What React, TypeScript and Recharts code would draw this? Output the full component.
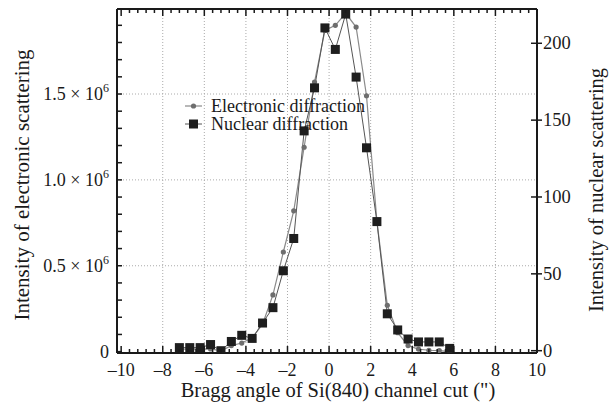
import { ComposedChart, Line, XAxis, YAxis, CartesianGrid, Legend } from 'recharts';

// Bragg angle (arcsec) of each measured point
const angles = [-7.2, -6.7, -6.2, -5.7, -5.2, -4.7, -4.2, -3.7, -3.2, -2.7, -2.2, -1.7, -1.2, -0.7, -0.2, 0.3, 0.8, 1.3, 1.8, 2.3, 2.8, 3.3, 3.8, 4.3, 4.8, 5.3, 5.8];
// electronic scattering, in units of 10^6
const electronic = [0.015, 0.015, 0.015, 0.016, 0.005, 0.035, 0.05, 0.08, 0.16, 0.33, 0.58, 0.82, 1.19, 1.57, 1.87, 1.9, 1.97, 1.89, 1.49, 0.76, 0.27, 0.11, 0.035, 0.015, 0.008, 0.006, 0.0];
// nuclear scattering counts
const nuclear = [2, 2, 2, 4, 0, 6, 10, 8, 18, 28, 52, 73, 143, 171, 210, 196, 219, 178, 132, 84, 24, 13.5, 7.6, 5.7, 5.7, 5.7, 1.5];

const xTicks = Array.from({ length: 51 }, (_, i) => +(-10 + i * 0.4).toFixed(1));
const leftTicks = Array.from({ length: 20 }, (_, i) => +(i * 0.1).toFixed(1));
const rightTicks = [0, 50, 100, 150, 200];
const xGrid = [-8, -6, -4, -2, 0, 2, 4, 6, 8];
const yGrid = [0.5, 1.0, 1.5];
const leftLabels: Record<string, string> = { '0': '0', '0.5': '0.5', '1': '1.0', '1.5': '1.5' };

const data = angles.map((a, i) => ({ angle: a, e: electronic[i], n: nuclear[i] }));

const FONT = "'Liberation Serif', 'Times New Roman', serif";
const INK = '#1a1a1a';

const isMajorX = (v: number) => Math.abs(v / 2 - Math.round(v / 2)) < 1e-6;

const BottomTick = ({ x, y, payload }: any) => {
  const v = payload.value;
  const major = isMajorX(v);
  return (
    <g>
      <line x1={x} x2={x} y1={y} y2={y - (major ? 7 : 4)} stroke={INK} strokeWidth={1.5} />
      {major && (
        <text x={x} y={y + 23} textAnchor="middle" fontSize={18} fontFamily={FONT} fill={INK}>
          {v < 0 ? `\u2013${Math.abs(v)}` : v}
        </text>
      )}
    </g>
  );
};

const TopTick = ({ x, y, payload }: any) => {
  const major = isMajorX(payload.value);
  return <line x1={x} x2={x} y1={y} y2={y + (major ? 7 : 4)} stroke={INK} strokeWidth={1.5} />;
};

const LeftTick = ({ x, y, payload }: any) => {
  const v = payload.value;
  const label = leftLabels[String(v)];
  return (
    <g>
      <line x1={x} x2={x + 5} y1={y} y2={y} stroke={INK} strokeWidth={1.5} />
      {label !== undefined && (
        <text x={x - 8} y={y + 6} textAnchor="end" fontSize={18} fontFamily={FONT} fill={INK}>
          {label === '0' ? '0' : (
            <>
              {label} × 10<tspan dy={-8} fontSize={12}>6</tspan>
            </>
          )}
        </text>
      )}
    </g>
  );
};

const RightTick = ({ x, y, payload }: any) => (
  <g>
    <line x1={x - 6} x2={x + 5} y1={y} y2={y} stroke={INK} strokeWidth={1.5} />
    <text x={x + 6} y={y + 6} textAnchor="start" fontSize={18.5} fontFamily={FONT} fill={INK}>
      {payload.value}
    </text>
  </g>
);

const Square = ({ cx, cy, index }: any) => (
  <rect key={`sq-${index}`} x={cx - 4.5} y={cy - 4.5} width={9} height={9} fill="#1e1e1e" />
);

const Dot = ({ cx, cy, index }: any) => (
  <circle key={`dot-${index}`} cx={cx} cy={cy} r={2.6} fill="#6e6e6e" />
);

const renderLegend = () => (
  <div style={{ fontFamily: FONT, fontSize: 18, color: INK, lineHeight: '18px' }}>
    <div style={{ display: 'flex', alignItems: 'center', height: 18 }}>
      <svg width={27} height={18}>
        <line x1={1} x2={18} y1={9} y2={9} stroke="#888" strokeWidth={1.2} />
        <circle cx={9.5} cy={9} r={2.6} fill="#6e6e6e" />
      </svg>
      <span>Electronic diffraction</span>
    </div>
    <div style={{ display: 'flex', alignItems: 'center', height: 18 }}>
      <svg width={27} height={18}>
        <line x1={1} x2={18} y1={9} y2={9} stroke="#555" strokeWidth={1} />
        <rect x={5} y={4.5} width={9} height={9} fill="#1e1e1e" />
      </svg>
      <span>Nuclear diffraction</span>
    </div>
  </div>
);

export default function App() {
  return (
    <div style={{ position: 'absolute', left: 0, top: 0, width: 613, height: 408, background: '#fff' }}>
      <ComposedChart width={613} height={408} data={data} margin={{ top: 0, right: 0, bottom: 0, left: 0 }}>
        <CartesianGrid
          xAxisId="x"
          yAxisId="left"
          verticalValues={xGrid}
          horizontalValues={yGrid}
          stroke="#aaa"
          strokeDasharray="1 2"
        />
        <XAxis
          xAxisId="x"
          dataKey="angle"
          type="number"
          domain={[-10.2, 10]}
          allowDataOverflow
          ticks={xTicks}
          interval={0}
          tickSize={0}
          tickMargin={0}
          tickLine={false}
          tick={<BottomTick />}
          height={55}
          axisLine={{ stroke: INK, strokeWidth: 2 }}
          label={{
            content: ({ viewBox }: any) => (
              <text x={viewBox.x + viewBox.width / 2 + 11} y={viewBox.y + 44} textAnchor="middle" fontSize={20.5} fontFamily={FONT} fill={INK}>
                Bragg angle of Si(840) channel cut (")
              </text>
            ),
          }}
        />
        <XAxis
          xAxisId="top"
          orientation="top"
          dataKey="angle"
          type="number"
          domain={[-10.2, 10]}
          allowDataOverflow
          ticks={xTicks}
          interval={0}
          tickSize={0}
          tickMargin={0}
          tickLine={false}
          tick={<TopTick />}
          height={9}
          axisLine={{ stroke: INK, strokeWidth: 2 }}
        />
        <YAxis
          yAxisId="left"
          type="number"
          domain={[-0.008, 1.995]}
          allowDataOverflow
          ticks={leftTicks}
          interval={0}
          tickSize={0}
          tickMargin={0}
          tickLine={false}
          tick={<LeftTick />}
          width={117}
          axisLine={{ stroke: INK, strokeWidth: 2 }}
          label={{
            content: ({ viewBox }: any) => (
              <text
                x={29}
                y={viewBox.y + 176}
                transform={`rotate(-90 29 ${viewBox.y + 176})`}
                textAnchor="middle"
                fontSize={21}
                fontFamily={FONT}
                fill={INK}
              >
                Intensity of electronic scattering
              </text>
            ),
          }}
        />
        <YAxis
          yAxisId="right"
          orientation="right"
          type="number"
          domain={[-1.5, 222.3]}
          allowDataOverflow
          ticks={rightTicks}
          interval={0}
          tickSize={0}
          tickMargin={0}
          tickLine={false}
          tick={<RightTick />}
          width={76}
          axisLine={{ stroke: INK, strokeWidth: 2 }}
          label={{
            content: ({ viewBox }: any) => (
              <text
                x={603}
                y={viewBox.y + 181}
                transform={`rotate(-90 603 ${viewBox.y + 181})`}
                textAnchor="middle"
                fontSize={20.5}
                fontFamily={FONT}
                fill={INK}
              >
                Intensity of nuclear scattering
              </text>
            ),
          }}
        />
        <Legend
          content={renderLegend}
          layout="horizontal"
          verticalAlign="middle"
          align="center"
          wrapperStyle={{ left: 184, top: 97, width: 230 }}
        />
        <Line
          xAxisId="x"
          yAxisId="left"
          dataKey="e"
          stroke="#8a8a8a"
          strokeWidth={1.2}
          dot={<Dot />}
          activeDot={false}
          isAnimationActive={false}
        />
        <Line
          xAxisId="x"
          yAxisId="right"
          dataKey="n"
          stroke="#555"
          strokeWidth={1}
          dot={<Square />}
          activeDot={false}
          isAnimationActive={false}
        />
      </ComposedChart>
    </div>
  );
}
